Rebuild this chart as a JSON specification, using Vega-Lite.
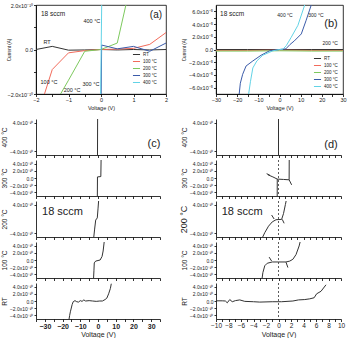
{
  "$schema": "https://vega.github.io/schema/vega-lite/v6.json",
  "background": "white",
  "padding": {"left": 1, "top": 2, "right": 0, "bottom": 0},
  "autosize": {"type": "pad"},
  "datasets": {
    "a_iv": [
      {"temp": "RT", "v": -2, "i": 0}, {"temp": "RT", "v": -1.5, "i": 1.4e-11}, {"temp": "RT", "v": -1, "i": -3e-12},
      {"temp": "RT", "v": -0.5, "i": -2e-12}, {"temp": "RT", "v": 0, "i": 0}, {"temp": "RT", "v": 0.5, "i": -2e-12},
      {"temp": "RT", "v": 1, "i": 0}, {"temp": "RT", "v": 1.5, "i": -2e-12}, {"temp": "RT", "v": 2, "i": 0},
      {"temp": "100 °C", "v": -2, "i": -3.2e-10}, {"temp": "100 °C", "v": -1.5, "i": -9e-11}, {"temp": "100 °C", "v": -1, "i": -1.5e-11},
      {"temp": "100 °C", "v": -0.5, "i": -5e-12}, {"temp": "100 °C", "v": 0, "i": 0}, {"temp": "100 °C", "v": 0.5, "i": 2e-12},
      {"temp": "100 °C", "v": 1, "i": 5e-12}, {"temp": "100 °C", "v": 1.5, "i": 2.3e-11}, {"temp": "100 °C", "v": 2, "i": 7.6e-11},
      {"temp": "200 °C", "v": -1.5, "i": -2.65e-10}, {"temp": "200 °C", "v": -1, "i": -1.38e-10}, {"temp": "200 °C", "v": -0.5, "i": -8e-12},
      {"temp": "200 °C", "v": 0, "i": 0}, {"temp": "200 °C", "v": 0.5, "i": 2.9e-11}, {"temp": "200 °C", "v": 1, "i": 3.5e-10},
      {"temp": "300 °C", "v": 0, "i": -3e-10}, {"temp": "300 °C", "v": 0.02, "i": 2e-11}, {"temp": "300 °C", "v": 0.5, "i": 3e-12},
      {"temp": "300 °C", "v": 1, "i": 1.4e-11}, {"temp": "300 °C", "v": 1.5, "i": -8e-12}, {"temp": "300 °C", "v": 2, "i": 2.9e-11},
      {"temp": "400 °C", "v": -0.02, "i": -3e-10}, {"temp": "400 °C", "v": 0.03, "i": 3e-10}
    ],
    "b_iv": [
      {"temp": "RT", "v": -30, "i": 0}, {"temp": "RT", "v": -15, "i": 0}, {"temp": "RT", "v": 0, "i": 0}, {"temp": "RT", "v": 15, "i": 0}, {"temp": "RT", "v": 30, "i": 0},
      {"temp": "100 °C", "v": -30, "i": -1.5e-6}, {"temp": "100 °C", "v": -15, "i": -1.5e-6}, {"temp": "100 °C", "v": 0, "i": -1e-6}, {"temp": "100 °C", "v": 15, "i": -1.5e-6}, {"temp": "100 °C", "v": 30, "i": -1.5e-6},
      {"temp": "200 °C", "v": -30, "i": -2.5e-6}, {"temp": "200 °C", "v": -15, "i": -2.5e-6}, {"temp": "200 °C", "v": 0, "i": -2e-6}, {"temp": "200 °C", "v": 15, "i": -2.5e-6}, {"temp": "200 °C", "v": 30, "i": -2.5e-6},
      {"temp": "300 °C", "v": -19.2, "i": -7.5e-5}, {"temp": "300 °C", "v": -18.5, "i": -5.3e-5}, {"temp": "300 °C", "v": -17.4, "i": -3.9e-5},
      {"temp": "300 °C", "v": -15.8, "i": -2.6e-5}, {"temp": "300 °C", "v": -12.6, "i": -1.8e-5}, {"temp": "300 °C", "v": -8.7, "i": -9e-6},
      {"temp": "300 °C", "v": -4.7, "i": -2e-6}, {"temp": "300 °C", "v": 0, "i": 0}, {"temp": "300 °C", "v": 3, "i": 1e-6},
      {"temp": "300 °C", "v": 5, "i": 8e-6}, {"temp": "300 °C", "v": 7, "i": 1.35e-5}, {"temp": "300 °C", "v": 10.3, "i": 2.45e-5},
      {"temp": "300 °C", "v": 12.6, "i": 4.6e-5}, {"temp": "300 °C", "v": 14.2, "i": 6.2e-5}, {"temp": "300 °C", "v": 15.5, "i": 7.5e-5},
      {"temp": "400 °C", "v": -14.8, "i": -7.5e-5}, {"temp": "400 °C", "v": -13.7, "i": -5e-5}, {"temp": "400 °C", "v": -12.6, "i": -2.9e-5},
      {"temp": "400 °C", "v": -10.7, "i": -1.8e-5}, {"temp": "400 °C", "v": -7.9, "i": -9e-6}, {"temp": "400 °C", "v": -3.1, "i": -2e-6},
      {"temp": "400 °C", "v": 0, "i": 0}, {"temp": "400 °C", "v": 1.6, "i": 5e-7}, {"temp": "400 °C", "v": 3.2, "i": 6e-6},
      {"temp": "400 °C", "v": 5.5, "i": 1.9e-5}, {"temp": "400 °C", "v": 8.7, "i": 3.8e-5}, {"temp": "400 °C", "v": 11.9, "i": 7e-5},
      {"temp": "400 °C", "v": 12.5, "i": 7.5e-5}
    ],
    "c_iv": [
      {"temp": "400 °C", "seg": "m", "v": -0.3, "i": -7e-10}, {"temp": "400 °C", "seg": "m", "v": -0.2, "i": 7e-10},
      {"temp": "300 °C", "seg": "m", "v": -0.4, "i": -7e-10}, {"temp": "300 °C", "seg": "m", "v": -0.3, "i": 3e-11},
      {"temp": "300 °C", "seg": "m", "v": 1.6, "i": 4e-11}, {"temp": "300 °C", "seg": "m", "v": 1.8, "i": 7e-10},
      {"temp": "200 °C", "seg": "m", "v": -2.6, "i": -6e-10}, {"temp": "200 °C", "seg": "m", "v": -1.9, "i": -2.8e-10},
      {"temp": "200 °C", "seg": "m", "v": -1.3, "i": -3e-11}, {"temp": "200 °C", "seg": "m", "v": -0.4, "i": 3e-11},
      {"temp": "200 °C", "seg": "m", "v": 0, "i": 2.8e-10}, {"temp": "200 °C", "seg": "m", "v": 0.5, "i": 6e-10},
      {"temp": "100 °C", "seg": "m", "v": -2.6, "i": -6e-10}, {"temp": "100 °C", "seg": "m", "v": -2.3, "i": -3e-10},
      {"temp": "100 °C", "seg": "m", "v": -2.1, "i": -8e-11}, {"temp": "100 °C", "seg": "m", "v": -1.3, "i": -3e-11},
      {"temp": "100 °C", "seg": "m", "v": 1.2, "i": 0}, {"temp": "100 °C", "seg": "m", "v": 2.3, "i": 1e-10},
      {"temp": "100 °C", "seg": "m", "v": 2.9, "i": 2.5e-10}, {"temp": "100 °C", "seg": "m", "v": 3.6, "i": 5.5e-10},
      {"temp": "RT", "seg": "m", "v": -16.5, "i": -5.5e-10}, {"temp": "RT", "seg": "m", "v": -16, "i": -4e-10},
      {"temp": "RT", "seg": "m", "v": -15.6, "i": -3e-10}, {"temp": "RT", "seg": "m", "v": -14.6, "i": -1e-10},
      {"temp": "RT", "seg": "m", "v": -14, "i": -2e-11}, {"temp": "RT", "seg": "m", "v": -13, "i": 1e-11},
      {"temp": "RT", "seg": "m", "v": -12, "i": -2e-11}, {"temp": "RT", "seg": "m", "v": -11, "i": -3e-11},
      {"temp": "RT", "seg": "m", "v": -10, "i": 1e-11}, {"temp": "RT", "seg": "m", "v": -9, "i": -1e-11},
      {"temp": "RT", "seg": "m", "v": -8, "i": 3e-11}, {"temp": "RT", "seg": "m", "v": -7, "i": 0},
      {"temp": "RT", "seg": "m", "v": -5, "i": 1e-11}, {"temp": "RT", "seg": "m", "v": -3, "i": 0},
      {"temp": "RT", "seg": "m", "v": -1, "i": -1e-11}, {"temp": "RT", "seg": "m", "v": 1, "i": 0},
      {"temp": "RT", "seg": "m", "v": 2.5, "i": 0}, {"temp": "RT", "seg": "m", "v": 4, "i": 4e-11},
      {"temp": "RT", "seg": "m", "v": 5, "i": 8e-11}, {"temp": "RT", "seg": "m", "v": 6, "i": 2e-10},
      {"temp": "RT", "seg": "m", "v": 7, "i": 3.5e-10}, {"temp": "RT", "seg": "m", "v": 7.5, "i": 4.8e-10}
    ],
    "d_iv": [
      {"temp": "400 °C", "seg": "m", "v": 0, "i": -7e-10}, {"temp": "400 °C", "seg": "m", "v": 0, "i": 7e-10},
      {"temp": "300 °C", "seg": "m", "v": -1.7, "i": 9e-11}, {"temp": "300 °C", "seg": "m", "v": -0.9, "i": 3e-11},
      {"temp": "300 °C", "seg": "m", "v": -0.2, "i": -3e-11}, {"temp": "300 °C", "seg": "m", "v": 0.8, "i": -4e-11},
      {"temp": "300 °C", "seg": "m", "v": 1.7, "i": -5e-11}, {"temp": "300 °C", "seg": "m", "v": 1.72, "i": 7e-10},
      {"temp": "300 °C", "seg": "b", "v": -0.2, "i": -3e-11}, {"temp": "300 °C", "seg": "b", "v": -0.21, "i": -7e-10},
      {"temp": "300 °C", "seg": "r", "v": 1.7, "i": -5e-11}, {"temp": "300 °C", "seg": "r", "v": 2.1, "i": -1.9e-10},
      {"temp": "300 °C", "seg": "l", "v": -1.9, "i": 1.2e-10}, {"temp": "300 °C", "seg": "l", "v": -1.4, "i": 8e-11},
      {"temp": "200 °C", "seg": "m", "v": -2.8, "i": -6e-10}, {"temp": "200 °C", "seg": "m", "v": -2.2, "i": -3.8e-10},
      {"temp": "200 °C", "seg": "m", "v": -1.6, "i": -2e-10}, {"temp": "200 °C", "seg": "m", "v": -1, "i": -8e-11},
      {"temp": "200 °C", "seg": "m", "v": -0.4, "i": -2e-11}, {"temp": "200 °C", "seg": "m", "v": 0.5, "i": -1e-11},
      {"temp": "200 °C", "seg": "m", "v": 0.8, "i": 1.5e-10}, {"temp": "200 °C", "seg": "m", "v": 1.1, "i": 4e-10},
      {"temp": "200 °C", "seg": "m", "v": 1.4, "i": 6.5e-10},
      {"temp": "200 °C", "seg": "a1", "v": -1.1, "i": 1.1e-10}, {"temp": "200 °C", "seg": "a1", "v": -0.7, "i": 0},
      {"temp": "200 °C", "seg": "a2", "v": 0.6, "i": -1e-11}, {"temp": "200 °C", "seg": "a2", "v": 0.9, "i": -1.2e-10},
      {"temp": "100 °C", "seg": "m", "v": -2.7, "i": -6e-10}, {"temp": "100 °C", "seg": "m", "v": -2.5, "i": -3.5e-10},
      {"temp": "100 °C", "seg": "m", "v": -2.2, "i": -1.6e-10}, {"temp": "100 °C", "seg": "m", "v": -1.8, "i": -9e-11},
      {"temp": "100 °C", "seg": "m", "v": -1, "i": -5.5e-11}, {"temp": "100 °C", "seg": "m", "v": 0, "i": -5.5e-11},
      {"temp": "100 °C", "seg": "m", "v": 1.2, "i": -5.5e-11}, {"temp": "100 °C", "seg": "m", "v": 1.8, "i": -3e-11},
      {"temp": "100 °C", "seg": "m", "v": 2.3, "i": 2e-11}, {"temp": "100 °C", "seg": "m", "v": 2.8, "i": 1.5e-10},
      {"temp": "100 °C", "seg": "m", "v": 3.3, "i": 3.9e-10}, {"temp": "100 °C", "seg": "m", "v": 3.6, "i": 6e-10},
      {"temp": "100 °C", "seg": "a1", "v": -1.5, "i": 8e-11}, {"temp": "100 °C", "seg": "a1", "v": -1.1, "i": -3e-11},
      {"temp": "100 °C", "seg": "a2", "v": 1.2, "i": -6e-11}, {"temp": "100 °C", "seg": "a2", "v": 1.5, "i": -2.1e-10},
      {"temp": "RT", "seg": "m", "v": -10, "i": 5e-12}, {"temp": "RT", "seg": "m", "v": -9, "i": 5e-12},
      {"temp": "RT", "seg": "m", "v": -8.5, "i": 0}, {"temp": "RT", "seg": "m", "v": -8.2, "i": -5e-11},
      {"temp": "RT", "seg": "m", "v": -7.8, "i": 4e-11}, {"temp": "RT", "seg": "m", "v": -7.4, "i": -2e-11},
      {"temp": "RT", "seg": "m", "v": -6.9, "i": 1e-11}, {"temp": "RT", "seg": "m", "v": -6.2, "i": 3e-11},
      {"temp": "RT", "seg": "m", "v": -5.4, "i": -1e-11}, {"temp": "RT", "seg": "m", "v": -4, "i": -2e-11},
      {"temp": "RT", "seg": "m", "v": -3, "i": -3e-11}, {"temp": "RT", "seg": "m", "v": -1, "i": -2e-11},
      {"temp": "RT", "seg": "m", "v": 0.5, "i": -2e-11}, {"temp": "RT", "seg": "m", "v": 2.3, "i": 0},
      {"temp": "RT", "seg": "m", "v": 3.2, "i": 3e-11}, {"temp": "RT", "seg": "m", "v": 4.2, "i": 4e-11},
      {"temp": "RT", "seg": "m", "v": 5, "i": 6e-11}, {"temp": "RT", "seg": "m", "v": 5.7, "i": 9e-11},
      {"temp": "RT", "seg": "m", "v": 6.1, "i": 2e-10}, {"temp": "RT", "seg": "m", "v": 6.8, "i": 2.7e-10},
      {"temp": "RT", "seg": "m", "v": 7.6, "i": 4.5e-10}
    ],
    "notes": [
      {"panel": "a", "kind": "tag", "label": "(a)", "v": 1.69, "i": 1.55e-10},
      {"panel": "a", "kind": "gas", "label": "18 sccm", "v": -1.85, "i": 1.6e-10},
      {"panel": "a", "kind": "curve", "label": "400 °C", "v": -0.28, "i": 1.28e-10},
      {"panel": "a", "kind": "curve", "label": "RT", "v": -1.66, "i": 3.4e-11},
      {"panel": "a", "kind": "curve", "label": "100 °C", "v": -1.6, "i": -1.46e-10},
      {"panel": "a", "kind": "curve", "label": "200 °C", "v": -0.89, "i": -1.82e-10},
      {"panel": "a", "kind": "curve", "label": "300 °C", "v": -0.31, "i": -1.55e-10},
      {"panel": "b", "kind": "tag", "label": "(b)", "v": 24.3, "i": 4.0e-5},
      {"panel": "b", "kind": "gas", "label": "18 sccm", "v": -28.1, "i": 5.6e-5},
      {"panel": "b", "kind": "curve", "label": "400 °C", "v": 2.6, "i": 5.4e-5},
      {"panel": "b", "kind": "curve", "label": "300 °C", "v": 17.2, "i": 5.4e-5},
      {"panel": "b", "kind": "curve", "label": "200 °C", "v": 23.9, "i": 1.0e-5},
      {"panel": "c400", "kind": "tag", "label": "(c)", "v": 31.6, "i": -1.9e-10},
      {"panel": "c200", "kind": "gas", "label": "18 sccm", "v": -31.6, "i": 1.9e-10},
      {"panel": "d400", "kind": "tag", "label": "(d)", "v": 8.4, "i": -2.2e-10},
      {"panel": "d200", "kind": "gas", "label": "18 sccm", "v": -9.1, "i": 2.0e-10}
    ],
    "zero": [{"v": 0, "i": 0}]
  },
  "concat": [
    {
      "width": 130, "height": 89,
      "view": {"stroke": "#000", "strokeWidth": 0.8},
      "resolve": {"axis": {"x": "independent", "y": "independent"}},
      "layer": [
        {
          "data": {"name": "a_iv"},
          "mark": {"type": "line", "clip": true, "strokeWidth": 1},
          "encoding": {
            "x": {"field": "v", "type": "quantitative", "scale": {"domain": [-2, 2]},
              "axis": {"values": [-2, -1, 0, 1, 2], "format": "d", "labelFontSize": 5.5, "tickSize": 2.5, "labelPadding": 1, "title": "Voltage (V)", "titleFontSize": 5.5, "titlePadding": 2}},
            "y": {"field": "i", "type": "quantitative", "scale": {"domain": [-2e-10, 2e-10]},
              "axis": {"values": [-2e-10, 0, 2e-10], "labelExpr": "datum.value === 0 ? '0.0' : format(datum.value * 1e10, '.1f') + 'x10⁻¹⁰'", "labelFontSize": 5.5, "tickSize": 2.5, "labelPadding": 1, "title": "Current (A)", "titleFontSize": 4.5, "titlePadding": 3, "minExtent": 22, "maxExtent": 22}},
            "color": {"field": "temp", "type": "nominal",
              "scale": {"domain": ["RT", "100 °C", "200 °C", "300 °C", "400 °C"], "range": ["#333333", "#f26b5b", "#7dc95e", "#3b5ba9", "#62d3e6"]},
              "legend": {"orient": "bottom-right", "title": null, "labelFontSize": 4.5, "symbolType": "stroke", "symbolSize": 50, "symbolStrokeWidth": 1, "rowPadding": 0, "offset": 9, "padding": 0, "labelOffset": 2}}
          }
        },
        {
          "data": {"name": "zero"},
          "mark": {"type": "point", "opacity": 0},
          "encoding": {
            "x": {"field": "v", "type": "quantitative", "axis": {"orient": "bottom", "values": [-1.5, -0.5, 0.5, 1.5], "labels": false, "title": null, "domain": false, "tickSize": 2.5}},
            "y": {"field": "i", "type": "quantitative", "axis": {"orient": "left", "values": [-1e-10, 1e-10], "labels": false, "title": null, "domain": false, "tickSize": 2.5}}
          }
        },
        {
          "data": {"name": "notes"},
          "transform": [{"filter": "datum.panel === 'a' && datum.kind === 'tag'"}],
          "mark": {"type": "text", "fontSize": 10, "color": "#222"},
          "encoding": {"x": {"field": "v", "type": "quantitative", "axis": null}, "y": {"field": "i", "type": "quantitative", "axis": null}, "text": {"field": "label"}}
        },
        {
          "data": {"name": "notes"},
          "transform": [{"filter": "datum.panel === 'a' && datum.kind === 'gas'"}],
          "mark": {"type": "text", "fontSize": 6.5, "align": "left", "color": "#222"},
          "encoding": {"x": {"field": "v", "type": "quantitative", "axis": null}, "y": {"field": "i", "type": "quantitative", "axis": null}, "text": {"field": "label"}}
        },
        {
          "data": {"name": "notes"},
          "transform": [{"filter": "datum.panel === 'a' && datum.kind === 'curve'"}],
          "mark": {"type": "text", "fontSize": 5.5, "color": "#222"},
          "encoding": {"x": {"field": "v", "type": "quantitative", "axis": null}, "y": {"field": "i", "type": "quantitative", "axis": null}, "text": {"field": "label"}}
        }
      ]
    },
    {
      "width": 127, "height": 89,
      "view": {"stroke": "#000", "strokeWidth": 0.8},
      "resolve": {"axis": {"x": "independent", "y": "independent"}},
      "layer": [
        {
          "data": {"name": "b_iv"},
          "mark": {"type": "line", "clip": true, "strokeWidth": 1},
          "encoding": {
            "x": {"field": "v", "type": "quantitative", "scale": {"domain": [-30, 30]},
              "axis": {"values": [-30, -20, -10, 0, 10, 20, 30], "format": "d", "labelFontSize": 5.5, "tickSize": 2.5, "labelPadding": 1, "title": "Voltage (V)", "titleFontSize": 5.5, "titlePadding": 2}},
            "y": {"field": "i", "type": "quantitative", "scale": {"domain": [-7e-5, 7e-5]},
              "axis": {"values": [-6e-5, -4e-5, -2e-5, 0, 2e-5, 4e-5, 6e-5], "labelExpr": "datum.value === 0 ? '0.0' : format(datum.value * 1e5, '.1f') + 'x10⁻⁵'", "labelFontSize": 5.5, "tickSize": 2.5, "labelPadding": 1, "title": "Current (A)", "titleFontSize": 4.5, "titlePadding": 4, "minExtent": 26, "maxExtent": 26}},
            "color": {"field": "temp", "type": "nominal",
              "scale": {"domain": ["RT", "100 °C", "200 °C", "300 °C", "400 °C"], "range": ["#333333", "#f26b5b", "#7dc95e", "#3b5ba9", "#62d3e6"]},
              "legend": {"orient": "bottom-right", "title": null, "labelFontSize": 4.5, "symbolType": "stroke", "symbolSize": 50, "symbolStrokeWidth": 1, "rowPadding": 0, "offset": 5, "padding": 0, "labelOffset": 2}}
          }
        },
        {
          "data": {"name": "zero"},
          "mark": {"type": "point", "opacity": 0},
          "encoding": {
            "x": {"field": "v", "type": "quantitative", "axis": {"orient": "bottom", "values": [-25, -15, -5, 5, 15, 25], "labels": false, "title": null, "domain": false, "tickSize": 2.5}},
            "y": {"field": "i", "type": "quantitative", "axis": {"orient": "left", "values": [-5e-5, -3e-5, -1e-5, 1e-5, 3e-5, 5e-5], "labels": false, "title": null, "domain": false, "tickSize": 2.5}}
          }
        },
        {
          "data": {"name": "notes"},
          "transform": [{"filter": "datum.panel === 'b' && datum.kind === 'tag'"}],
          "mark": {"type": "text", "fontSize": 11, "color": "#222"},
          "encoding": {"x": {"field": "v", "type": "quantitative", "axis": null}, "y": {"field": "i", "type": "quantitative", "axis": null}, "text": {"field": "label"}}
        },
        {
          "data": {"name": "notes"},
          "transform": [{"filter": "datum.panel === 'b' && datum.kind === 'gas'"}],
          "mark": {"type": "text", "fontSize": 6.5, "align": "left", "color": "#222"},
          "encoding": {"x": {"field": "v", "type": "quantitative", "axis": null}, "y": {"field": "i", "type": "quantitative", "axis": null}, "text": {"field": "label"}}
        },
        {
          "data": {"name": "notes"},
          "transform": [{"filter": "datum.panel === 'b' && datum.kind === 'curve'"}],
          "mark": {"type": "text", "fontSize": 5, "color": "#222"},
          "encoding": {"x": {"field": "v", "type": "quantitative", "axis": null}, "y": {"field": "i", "type": "quantitative", "axis": null}, "text": {"field": "label"}}
        }
      ]
    },
    {"width": 1, "height": 15, "data": {"values": []}, "mark": "point", "encoding": {}},
    {"width": 1, "height": 15, "data": {"values": []}, "mark": "point", "encoding": {}},

    {
      "width": 124, "height": 36,
      "resolve": {"axis": {"x": "independent"}},
      "layer": [
        {
          "data": {"name": "c_iv"}, "transform": [{"filter": "datum.temp === '400 °C'"}],
          "mark": {"type": "line", "clip": true, "color": "#333333", "strokeWidth": 1},
          "encoding": {
            "x": {"field": "v", "type": "quantitative", "scale": {"domain": [-35, 35]}, "axis": {"values": [-30, -20, -10, 0, 10, 20, 30], "labels": false, "title": null, "tickSize": 2.5}},
            "y": {"field": "i", "type": "quantitative", "scale": {"domain": [-5e-10, 5e-10]}, "axis": {"title": "400 °C", "values": [-4e-10, -2e-10, 0, 2e-10, 4e-10], "labelExpr": "datum.value === 0 ? '0.0' : format(datum.value * 1e10, '.1f') + 'x10⁻¹⁰'", "labelFontSize": 5, "tickSize": 2, "labelPadding": 1, "minExtent": 27, "maxExtent": 27, "titleFontSize": 6.5, "titlePadding": 2}},
            "detail": {"field": "seg"}
          }
        },
        {
          "data": {"name": "zero"},
          "mark": {"type": "rule", "opacity": 0},
          "encoding": {"x": {"field": "v", "type": "quantitative", "axis": {"orient": "bottom", "values": [-35, -25, -15, -5, 5, 15, 25, 35], "labels": false, "title": null, "domain": false, "tickSize": 2.5}}}
        },
        {
          "data": {"name": "notes"}, "transform": [{"filter": "datum.panel === 'c400'"}],
          "mark": {"type": "text", "fontSize": 11, "color": "#222"},
          "encoding": {"x": {"field": "v", "type": "quantitative", "axis": null}, "y": {"field": "i", "type": "quantitative"}, "text": {"field": "label"}}
        }
      ]
    },
    {
      "width": 125, "height": 36,
      "resolve": {"axis": {"x": "independent"}},
      "layer": [
        {
          "data": {"name": "d_iv"}, "transform": [{"filter": "datum.temp === '400 °C'"}],
          "mark": {"type": "line", "clip": true, "color": "#333333", "strokeWidth": 1},
          "encoding": {
            "x": {"field": "v", "type": "quantitative", "scale": {"domain": [-10, 10]}, "axis": {"values": [-10, -8, -6, -4, -2, 0, 2, 4, 6, 8, 10], "labels": false, "title": null, "tickSize": 2.5}},
            "y": {"field": "i", "type": "quantitative", "scale": {"domain": [-5e-10, 5e-10]}, "axis": {"title": "400 °C", "values": [-4e-10, -2e-10, 0, 2e-10, 4e-10], "labelExpr": "datum.value === 0 ? '0.0' : format(datum.value * 1e10, '.1f') + 'x10⁻¹⁰'", "labelFontSize": 5, "tickSize": 2, "labelPadding": 1, "minExtent": 27, "maxExtent": 27, "titleFontSize": 6.5, "titlePadding": 2}},
            "detail": {"field": "seg"}
          }
        },
        {
          "data": {"name": "zero"},
          "mark": {"type": "rule", "opacity": 0},
          "encoding": {"x": {"field": "v", "type": "quantitative", "axis": {"orient": "bottom", "values": [-9, -7, -5, -3, -1, 1, 3, 5, 7, 9], "labels": false, "title": null, "domain": false, "tickSize": 2.5}}}
        },
        {
          "data": {"name": "notes"}, "transform": [{"filter": "datum.panel === 'd400'"}],
          "mark": {"type": "text", "fontSize": 11, "color": "#222"},
          "encoding": {"x": {"field": "v", "type": "quantitative", "axis": null}, "y": {"field": "i", "type": "quantitative"}, "text": {"field": "label"}}
        }
      ]
    },

    {
      "width": 124, "height": 36,
      "resolve": {"axis": {"x": "independent"}},
      "layer": [
        {
          "data": {"name": "c_iv"}, "transform": [{"filter": "datum.temp === '300 °C'"}],
          "mark": {"type": "line", "clip": true, "color": "#333333", "strokeWidth": 1},
          "encoding": {
            "x": {"field": "v", "type": "quantitative", "scale": {"domain": [-35, 35]}, "axis": {"values": [-30, -20, -10, 0, 10, 20, 30], "labels": false, "title": null, "tickSize": 2.5}},
            "y": {"field": "i", "type": "quantitative", "scale": {"domain": [-5e-10, 5e-10]}, "axis": {"title": "300 °C", "values": [-4e-10, -2e-10, 0, 2e-10, 4e-10], "labelExpr": "datum.value === 0 ? '0.0' : format(datum.value * 1e10, '.1f') + 'x10⁻¹⁰'", "labelFontSize": 5, "tickSize": 2, "labelPadding": 1, "minExtent": 27, "maxExtent": 27, "titleFontSize": 6.5, "titlePadding": 2}},
            "detail": {"field": "seg"}
          }
        },
        {
          "data": {"name": "zero"},
          "mark": {"type": "rule", "opacity": 0},
          "encoding": {"x": {"field": "v", "type": "quantitative", "axis": {"orient": "bottom", "values": [-35, -25, -15, -5, 5, 15, 25, 35], "labels": false, "title": null, "domain": false, "tickSize": 2.5}}}
        }
      ]
    },
    {
      "width": 125, "height": 36,
      "resolve": {"axis": {"x": "independent"}},
      "layer": [
        {
          "data": {"name": "d_iv"}, "transform": [{"filter": "datum.temp === '300 °C'"}],
          "mark": {"type": "line", "clip": true, "color": "#333333", "strokeWidth": 1},
          "encoding": {
            "x": {"field": "v", "type": "quantitative", "scale": {"domain": [-10, 10]}, "axis": {"values": [-10, -8, -6, -4, -2, 0, 2, 4, 6, 8, 10], "labels": false, "title": null, "tickSize": 2.5}},
            "y": {"field": "i", "type": "quantitative", "scale": {"domain": [-5e-10, 5e-10]}, "axis": {"title": "300 °C", "values": [-4e-10, -2e-10, 0, 2e-10, 4e-10], "labelExpr": "datum.value === 0 ? '0.0' : format(datum.value * 1e10, '.1f') + 'x10⁻¹⁰'", "labelFontSize": 5, "tickSize": 2, "labelPadding": 1, "minExtent": 27, "maxExtent": 27, "titleFontSize": 6.5, "titlePadding": 2}},
            "detail": {"field": "seg"}
          }
        },
        {
          "data": {"name": "zero"},
          "mark": {"type": "rule", "color": "#333333", "strokeWidth": 0.8, "strokeDash": [2, 2]},
          "encoding": {"x": {"field": "v", "type": "quantitative", "axis": {"orient": "bottom", "values": [-9, -7, -5, -3, -1, 1, 3, 5, 7, 9], "labels": false, "title": null, "domain": false, "tickSize": 2.5}}}
        }
      ]
    },

    {
      "width": 124, "height": 36,
      "resolve": {"axis": {"x": "independent"}},
      "layer": [
        {
          "data": {"name": "c_iv"}, "transform": [{"filter": "datum.temp === '200 °C'"}],
          "mark": {"type": "line", "clip": true, "color": "#333333", "strokeWidth": 1},
          "encoding": {
            "x": {"field": "v", "type": "quantitative", "scale": {"domain": [-35, 35]}, "axis": {"values": [-30, -20, -10, 0, 10, 20, 30], "labels": false, "title": null, "tickSize": 2.5}},
            "y": {"field": "i", "type": "quantitative", "scale": {"domain": [-5e-10, 5e-10]}, "axis": {"title": "200 °C", "values": [-4e-10, -2e-10, 0, 2e-10, 4e-10], "labelExpr": "datum.value === 0 ? '0.0' : format(datum.value * 1e10, '.1f') + 'x10⁻¹⁰'", "labelFontSize": 5, "tickSize": 2, "labelPadding": 1, "minExtent": 27, "maxExtent": 27, "titleFontSize": 6.5, "titlePadding": 2}},
            "detail": {"field": "seg"}
          }
        },
        {
          "data": {"name": "zero"},
          "mark": {"type": "rule", "opacity": 0},
          "encoding": {"x": {"field": "v", "type": "quantitative", "axis": {"orient": "bottom", "values": [-35, -25, -15, -5, 5, 15, 25, 35], "labels": false, "title": null, "domain": false, "tickSize": 2.5}}}
        },
        {
          "data": {"name": "notes"}, "transform": [{"filter": "datum.panel === 'c200'"}],
          "mark": {"type": "text", "fontSize": 11, "align": "left", "color": "#222"},
          "encoding": {"x": {"field": "v", "type": "quantitative", "axis": null}, "y": {"field": "i", "type": "quantitative"}, "text": {"field": "label"}}
        }
      ]
    },
    {
      "width": 125, "height": 36,
      "resolve": {"axis": {"x": "independent"}},
      "layer": [
        {
          "data": {"name": "d_iv"}, "transform": [{"filter": "datum.temp === '200 °C'"}],
          "mark": {"type": "line", "clip": true, "color": "#333333", "strokeWidth": 1},
          "encoding": {
            "x": {"field": "v", "type": "quantitative", "scale": {"domain": [-10, 10]}, "axis": {"values": [-10, -8, -6, -4, -2, 0, 2, 4, 6, 8, 10], "labels": false, "title": null, "tickSize": 2.5}},
            "y": {"field": "i", "type": "quantitative", "scale": {"domain": [-5e-10, 5e-10]}, "axis": {"title": "200 °C", "values": [-4e-10, -2e-10, 0, 2e-10, 4e-10], "labelExpr": "datum.value === 0 ? '0.0' : format(datum.value * 1e10, '.1f') + 'x10⁻¹⁰'", "labelFontSize": 5, "tickSize": 2, "labelPadding": 1, "minExtent": 27, "maxExtent": 27, "titleFontSize": 9, "titlePadding": 1}},
            "detail": {"field": "seg"}
          }
        },
        {
          "data": {"name": "zero"},
          "mark": {"type": "rule", "color": "#333333", "strokeWidth": 0.8, "strokeDash": [2, 2]},
          "encoding": {"x": {"field": "v", "type": "quantitative", "axis": {"orient": "bottom", "values": [-9, -7, -5, -3, -1, 1, 3, 5, 7, 9], "labels": false, "title": null, "domain": false, "tickSize": 2.5}}}
        },
        {
          "data": {"name": "notes"}, "transform": [{"filter": "datum.panel === 'd200'"}],
          "mark": {"type": "text", "fontSize": 11, "align": "left", "color": "#222"},
          "encoding": {"x": {"field": "v", "type": "quantitative", "axis": null}, "y": {"field": "i", "type": "quantitative"}, "text": {"field": "label"}}
        }
      ]
    },

    {
      "width": 124, "height": 36,
      "resolve": {"axis": {"x": "independent"}},
      "layer": [
        {
          "data": {"name": "c_iv"}, "transform": [{"filter": "datum.temp === '100 °C'"}],
          "mark": {"type": "line", "clip": true, "color": "#333333", "strokeWidth": 1},
          "encoding": {
            "x": {"field": "v", "type": "quantitative", "scale": {"domain": [-35, 35]}, "axis": {"values": [-30, -20, -10, 0, 10, 20, 30], "labels": false, "title": null, "tickSize": 2.5}},
            "y": {"field": "i", "type": "quantitative", "scale": {"domain": [-5e-10, 5e-10]}, "axis": {"title": "100 °C", "values": [-4e-10, -2e-10, 0, 2e-10, 4e-10], "labelExpr": "datum.value === 0 ? '0.0' : format(datum.value * 1e10, '.1f') + 'x10⁻¹⁰'", "labelFontSize": 5, "tickSize": 2, "labelPadding": 1, "minExtent": 27, "maxExtent": 27, "titleFontSize": 6.5, "titlePadding": 2}},
            "detail": {"field": "seg"}
          }
        },
        {
          "data": {"name": "zero"},
          "mark": {"type": "rule", "opacity": 0},
          "encoding": {"x": {"field": "v", "type": "quantitative", "axis": {"orient": "bottom", "values": [-35, -25, -15, -5, 5, 15, 25, 35], "labels": false, "title": null, "domain": false, "tickSize": 2.5}}}
        }
      ]
    },
    {
      "width": 125, "height": 36,
      "resolve": {"axis": {"x": "independent"}},
      "layer": [
        {
          "data": {"name": "d_iv"}, "transform": [{"filter": "datum.temp === '100 °C'"}],
          "mark": {"type": "line", "clip": true, "color": "#333333", "strokeWidth": 1},
          "encoding": {
            "x": {"field": "v", "type": "quantitative", "scale": {"domain": [-10, 10]}, "axis": {"values": [-10, -8, -6, -4, -2, 0, 2, 4, 6, 8, 10], "labels": false, "title": null, "tickSize": 2.5}},
            "y": {"field": "i", "type": "quantitative", "scale": {"domain": [-5e-10, 5e-10]}, "axis": {"title": "100 °C", "values": [-4e-10, -2e-10, 0, 2e-10, 4e-10], "labelExpr": "datum.value === 0 ? '0.0' : format(datum.value * 1e10, '.1f') + 'x10⁻¹⁰'", "labelFontSize": 5, "tickSize": 2, "labelPadding": 1, "minExtent": 27, "maxExtent": 27, "titleFontSize": 6.5, "titlePadding": 2}},
            "detail": {"field": "seg"}
          }
        },
        {
          "data": {"name": "zero"},
          "mark": {"type": "rule", "color": "#333333", "strokeWidth": 0.8, "strokeDash": [2, 2]},
          "encoding": {"x": {"field": "v", "type": "quantitative", "axis": {"orient": "bottom", "values": [-9, -7, -5, -3, -1, 1, 3, 5, 7, 9], "labels": false, "title": null, "domain": false, "tickSize": 2.5}}}
        }
      ]
    },

    {
      "width": 124, "height": 36,
      "resolve": {"axis": {"x": "independent"}},
      "layer": [
        {
          "data": {"name": "c_iv"}, "transform": [{"filter": "datum.temp === 'RT'"}],
          "mark": {"type": "line", "clip": true, "color": "#333333", "strokeWidth": 1},
          "encoding": {
            "x": {"field": "v", "type": "quantitative", "scale": {"domain": [-35, 35]}, "axis": {"values": [-30, -20, -10, 0, 10, 20, 30], "format": "d", "labelFontSize": 7, "labelFontWeight": "bold", "labelPadding": 1, "tickSize": 2.5, "title": "Voltage (V)", "titleFontSize": 7, "titlePadding": 1}},
            "y": {"field": "i", "type": "quantitative", "scale": {"domain": [-5e-10, 5e-10]}, "axis": {"title": "RT", "values": [-4e-10, -2e-10, 0, 2e-10, 4e-10], "labelExpr": "datum.value === 0 ? '0.0' : format(datum.value * 1e10, '.1f') + 'x10⁻¹⁰'", "labelFontSize": 5, "tickSize": 2, "labelPadding": 1, "minExtent": 27, "maxExtent": 27, "titleFontSize": 6.5, "titlePadding": 2}},
            "detail": {"field": "seg"}
          }
        },
        {
          "data": {"name": "zero"},
          "mark": {"type": "rule", "opacity": 0},
          "encoding": {"x": {"field": "v", "type": "quantitative", "axis": {"orient": "bottom", "values": [-35, -25, -15, -5, 5, 15, 25, 35], "labels": false, "title": null, "domain": false, "tickSize": 2.5}}}
        }
      ]
    },
    {
      "width": 125, "height": 36,
      "resolve": {"axis": {"x": "independent"}},
      "layer": [
        {
          "data": {"name": "d_iv"}, "transform": [{"filter": "datum.temp === 'RT'"}],
          "mark": {"type": "line", "clip": true, "color": "#333333", "strokeWidth": 1},
          "encoding": {
            "x": {"field": "v", "type": "quantitative", "scale": {"domain": [-10, 10]}, "axis": {"values": [-10, -8, -6, -4, -2, 0, 2, 4, 6, 8, 10], "format": "d", "labelFontSize": 6.5, "labelPadding": 1, "tickSize": 2.5, "title": "Voltage (V)", "titleFontSize": 7, "titlePadding": 1}},
            "y": {"field": "i", "type": "quantitative", "scale": {"domain": [-5e-10, 5e-10]}, "axis": {"title": "RT", "values": [-4e-10, -2e-10, 0, 2e-10, 4e-10], "labelExpr": "datum.value === 0 ? '0.0' : format(datum.value * 1e10, '.1f') + 'x10⁻¹⁰'", "labelFontSize": 5, "tickSize": 2, "labelPadding": 1, "minExtent": 27, "maxExtent": 27, "titleFontSize": 6.5, "titlePadding": 2}},
            "detail": {"field": "seg"}
          }
        },
        {
          "data": {"name": "zero"},
          "mark": {"type": "rule", "color": "#333333", "strokeWidth": 0.8, "strokeDash": [2, 2]},
          "encoding": {"x": {"field": "v", "type": "quantitative", "axis": {"orient": "bottom", "values": [-9, -7, -5, -3, -1, 1, 3, 5, 7, 9], "labels": false, "title": null, "domain": false, "tickSize": 2.5}}}
        }
      ]
    }
  ],
  "columns": 2,
  "align": "each",
  "bounds": "flush",
  "spacing": {"row": 5, "column": 50},
  "resolve": {"legend": {"color": "independent"}, "scale": {"color": "independent"}},
  "config": {
    "font": "Liberation Sans",
    "view": {"stroke": null},
    "axis": {"grid": false, "labelOverlap": false, "labelBound": false, "labelFlush": false, "domainColor": "#000", "domainWidth": 0.8, "tickColor": "#000", "tickWidth": 0.8, "labelColor": "#222", "titleColor": "#222", "titleFontWeight": "normal", "labelFont": "Liberation Sans", "titleFont": "Liberation Sans"},
    "legend": {"labelFont": "Liberation Sans", "labelColor": "#222"},
    "text": {"font": "Liberation Sans"}
  }
}
